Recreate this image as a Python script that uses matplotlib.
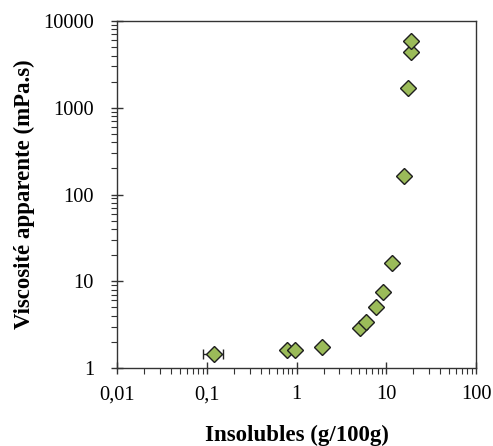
import matplotlib
matplotlib.use("Agg")
import matplotlib.pyplot as plt
from matplotlib.ticker import LogLocator, FixedLocator, FixedFormatter, NullFormatter

insolubles = [0.119, 0.79, 0.96, 1.94, 5.06, 6.0, 7.74, 9.27, 11.6, 15.8, 17.6, 18.7, 18.9]
viscosite = [1.46, 1.60, 1.60, 1.75, 2.89, 3.37, 5.09, 7.45, 16.4, 163, 1675, 4360, 5900]
xerr_low = [0.027] + [0] * 12
xerr_high = [0.033] + [0] * 12

x_ticks = [0.01, 0.1, 1, 10, 100]
x_labels = ["0,01", "0,1", "1", "10", "100"]
y_ticks = [1, 10, 100, 1000, 10000]
y_labels = ["1", "10", "100", "1000", "10000"]

plt.rcParams['font.family'] = ['Liberation Serif', 'DejaVu Serif']

fig = plt.figure(figsize=(4.93, 4.46), dpi=100)
ax = fig.add_axes([117/493, 1 - 368/446, (476-117)/493, (368-21)/446])

ax.errorbar(insolubles, viscosite, xerr=[xerr_low, xerr_high], fmt='none',
            ecolor='#222222', elinewidth=1.0, capsize=3.5, capthick=1.0, zorder=2)
ax.plot(insolubles, viscosite, linestyle='none', marker='D', markersize=8.5,
        markerfacecolor='#9BBB59', markeredgecolor='#1e1e1e', markeredgewidth=1.0, zorder=3)

ax.set_xscale('log')
ax.set_yscale('log')
ax.set_xlim(0.01, 100)
ax.set_ylim(1, 10000)

ax.xaxis.set_major_locator(FixedLocator(x_ticks))
ax.xaxis.set_major_formatter(FixedFormatter(x_labels))
ax.yaxis.set_major_locator(FixedLocator(y_ticks))
ax.yaxis.set_major_formatter(FixedFormatter(y_labels))
ax.xaxis.set_minor_locator(LogLocator(base=10, subs=range(2, 10), numticks=20))
ax.yaxis.set_minor_locator(LogLocator(base=10, subs=range(2, 10), numticks=20))
ax.xaxis.set_minor_formatter(NullFormatter())
ax.yaxis.set_minor_formatter(NullFormatter())

ax.tick_params(which='major', direction='inout', length=9, width=1.0, labelsize=14.7,
               color='#333333', labelcolor='black')
ax.tick_params(which='minor', direction='out', length=4, width=0.8, color='#333333')
ax.tick_params(axis='y', which='major', pad=12)
ax.tick_params(axis='x', which='major', pad=8)

for s in ax.spines.values():
    s.set_linewidth(1.0)
    s.set_color('#333333')

ax.set_xlabel('Insolubles (g/100g)', fontsize=16.5, fontweight='bold', labelpad=15)
ax.set_ylabel('Viscosité apparente (mPa.s)', fontsize=16.5, fontweight='bold', labelpad=6)

fig.savefig('out.png', dpi=100)
